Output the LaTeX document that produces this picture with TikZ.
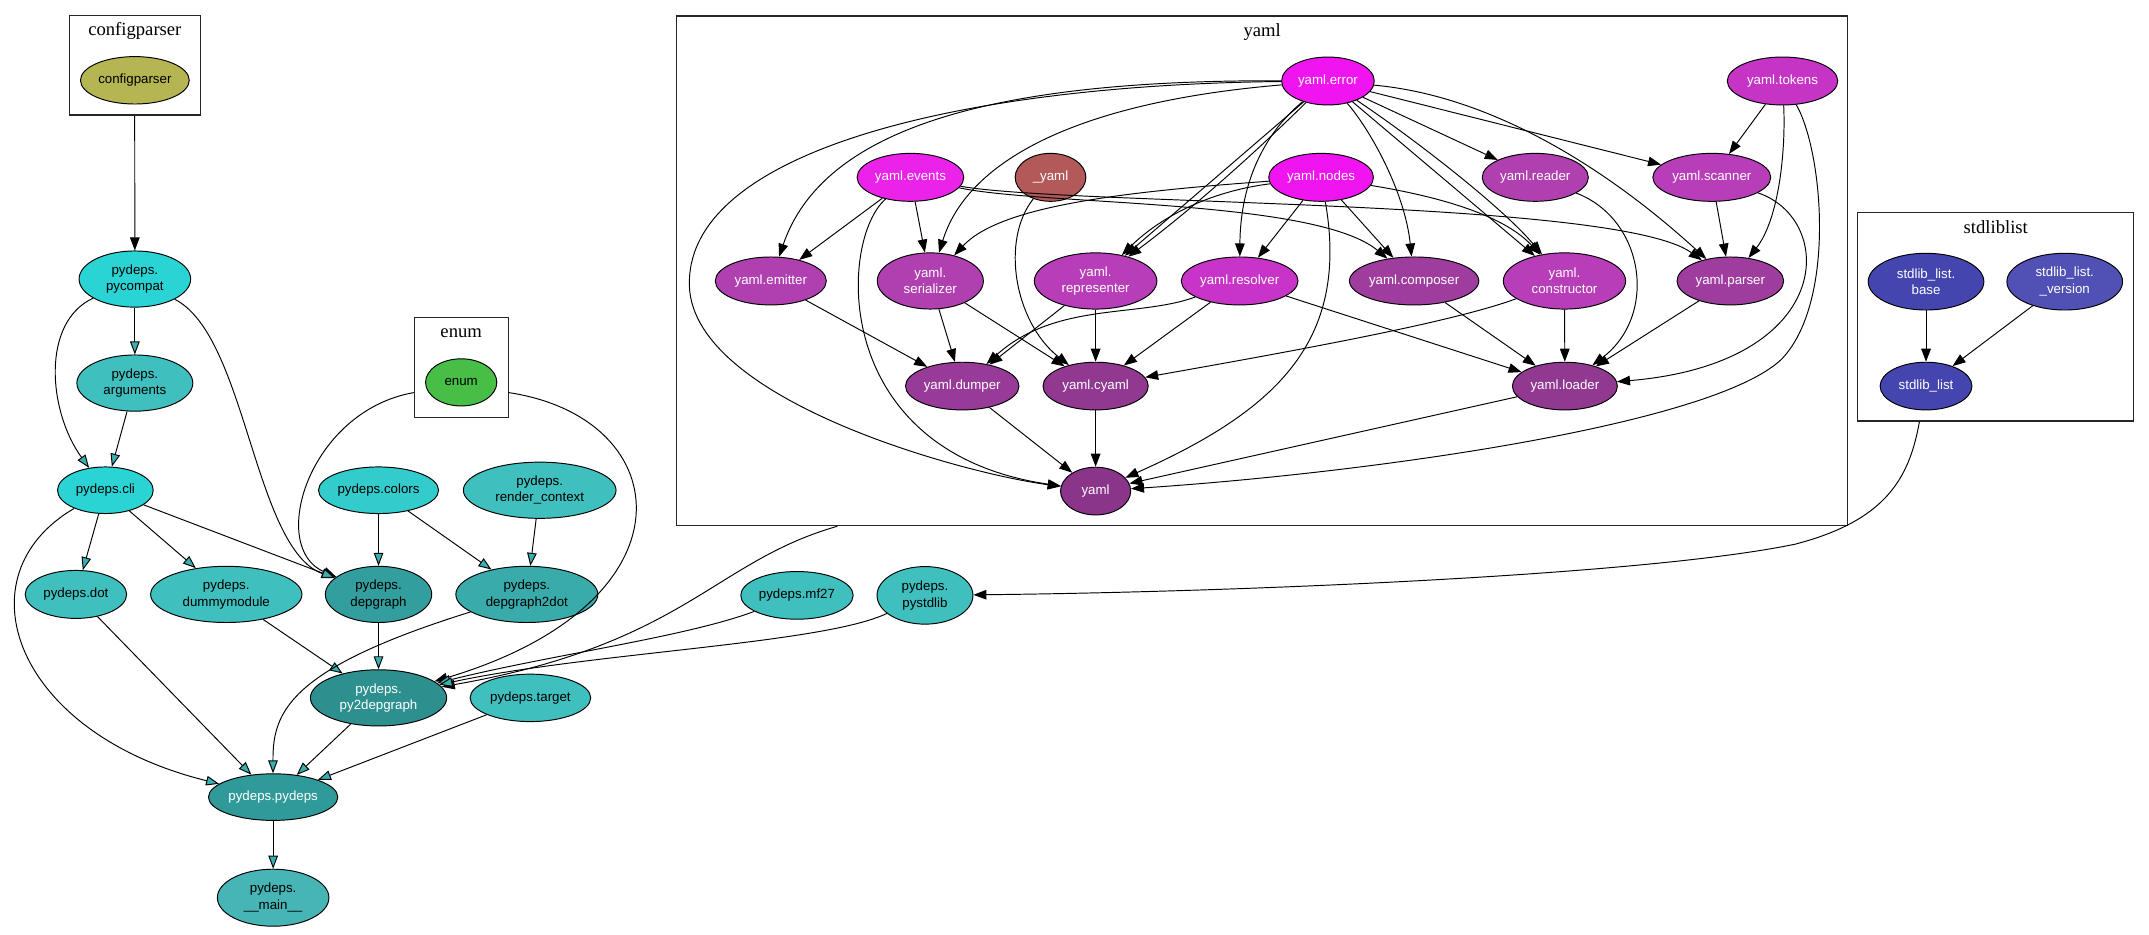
\documentclass[tikz,border=0pt]{standalone}
\usepackage{fontspec}
\setmainfont{Liberation Serif}
\setsansfont{Liberation Sans}
\usetikzlibrary{shapes.geometric,arrows.meta}
\definecolor{CfgOlive}{HTML}{B5B552}
\definecolor{EnumGreen}{HTML}{47BF47}
\definecolor{PyCyan}{HTML}{2AD4D4}
\definecolor{PyColors}{HTML}{33CCCC}
\definecolor{PyTeal}{HTML}{40BFBF}
\definecolor{PyMid}{HTML}{3AABAB}
\definecolor{PyDark}{HTML}{339E9E}
\definecolor{PyDeep}{HTML}{2E8F8F}
\definecolor{PyPydeps}{HTML}{309999}
\definecolor{PyMain}{HTML}{47B5B5}
\definecolor{TipTeal}{HTML}{38B0B0}
\definecolor{YMagenta}{HTML}{F014F0}
\definecolor{YEvents}{HTML}{EA22EA}
\definecolor{YRed}{HTML}{B35959}
\definecolor{YTokens}{HTML}{C634C6}
\definecolor{YResolver}{HTML}{C833C8}
\definecolor{YPurple}{HTML}{B040B0}
\definecolor{YBright}{HTML}{B83DB8}
\definecolor{YMid}{HTML}{9E3D9E}
\definecolor{YDumper}{HTML}{983A98}
\definecolor{YDark}{HTML}{913891}
\definecolor{YDeep}{HTML}{8A358A}
\definecolor{SBlue}{HTML}{4545B0}
\definecolor{SBlueLight}{HTML}{5050B5}
\newcommand{\depfont}{\sffamily\fontsize{9.7}{12}\selectfont}
\newcommand{\clusterfont}{\rmfamily\fontsize{13.6}{16}\selectfont}

\begin{document}
\begin{tikzpicture}[
    x=1pt, y=-1pt,
    modnode/.style={ellipse, draw=black, line width=0.7pt, fill=#1, inner sep=0pt, align=center, font=\depfont},
    modwhite/.style={modnode=#1, text=white},
    cluster/.style={draw=black!85, line width=0.8pt, fill=white, inner sep=0pt},
    ctitle/.style={font=\clusterfont, inner sep=0pt},
    dep/.style={-{Triangle[length=9.5pt, width=7pt, fill=TipTeal]}, line width=0.7pt},
    ydep/.style={-{Triangle[length=9.5pt, width=7pt]}, line width=0.7pt}
]
  \useasboundingbox (0,0) rectangle (1568,682);

  % -------------------------------------------------------------
  % CLUSTERS
  % -------------------------------------------------------------
  \node[cluster, minimum width=95.5pt, minimum height=72.3pt] (cl_configparser) at (98.25, 47.75) {};
  \node[ctitle] (t_configparser) at (98.4, 22.9) {configparser};
  \node[cluster, minimum width=68.4pt, minimum height=72.5pt] (cl_enum) at (336.5, 268.05) {};
  \node[ctitle] (t_enum) at (336.5, 243.4) {enum};
  \node[cluster, minimum width=854.5pt, minimum height=371.9pt] (cl_yaml) at (921.05, 197.65) {};
  \node[ctitle] (t_yaml) at (921, 23.1) {yaml};
  \node[cluster, minimum width=201.2pt, minimum height=152.3pt] (cl_stdliblist) at (1456.1, 231.05) {};
  \node[ctitle] (t_stdliblist) at (1456.2, 165.9) {stdliblist};

  \node[modnode=CfgOlive, minimum width=79.4pt, minimum height=34.6pt] (c_configparser) at (98.4, 58.6) {configparser};
  \node[modnode=EnumGreen, minimum width=52pt, minimum height=34.4pt] (e_enum) at (336.5, 279) {enum};

  % -------------------------------------------------------------
  % PYDEPS
  % -------------------------------------------------------------
  \node[modnode=PyCyan, minimum width=81.4pt, minimum height=41pt] (p_pycompat) at (98.4, 203.6) {pydeps.\\pycompat};
  \node[modnode=PyTeal, minimum width=84.6pt, minimum height=41pt] (p_arguments) at (98.4, 279.5) {pydeps.\\arguments};
  \node[modnode=PyCyan, minimum width=69.8pt, minimum height=34pt] (p_cli) at (76.9, 357.7) {pydeps.cli};
  \node[modnode=PyColors, minimum width=87.6pt, minimum height=34pt] (p_colors) at (276.2, 357.7) {pydeps.colors};
  \node[modnode=PyTeal, minimum width=111.4pt, minimum height=41pt] (p_render) at (393.8, 357.7) {pydeps.\\render\_context};
  \node[modnode=PyTeal, minimum width=74pt, minimum height=35pt] (p_dot) at (55.4, 433.7) {pydeps.dot};
  \node[modnode=PyTeal, minimum width=110.4pt, minimum height=41pt] (p_dummy) at (165.1, 433.7) {pydeps.\\dummymodule};
  \node[modnode=PyDark, minimum width=77.6pt, minimum height=41pt] (p_depgraph) at (276.2, 433.7) {pydeps.\\depgraph};
  \node[modnode=PyMid, minimum width=103.6pt, minimum height=41pt] (p_depgraph2dot) at (384.4, 433.7) {pydeps.\\depgraph2dot};
  \node[modwhite=PyDeep, minimum width=99.4pt, minimum height=41pt] (p_py2depgraph) at (276.2, 509.2) {pydeps.\\py2depgraph};
  \node[modnode=PyTeal, minimum width=88pt, minimum height=34.6pt] (p_target) at (387, 509.2) {pydeps.target};
  \node[modwhite=PyPydeps, minimum width=94.4pt, minimum height=34pt] (p_pydeps) at (199.3, 581.6) {pydeps.pydeps};
  \node[modnode=PyMain, minimum width=81.4pt, minimum height=41.6pt] (p_main) at (199.3, 655) {pydeps.\\\_\_main\_\_};
  \node[modnode=PyTeal, minimum width=82pt, minimum height=34.8pt] (p_mf27) at (581.5, 434.4) {pydeps.mf27};
  \node[modnode=PyTeal, minimum width=70pt, minimum height=42pt] (p_pystdlib) at (674.9, 434.4) {pydeps.\\pystdlib};

  % -------------------------------------------------------------
  % YAML
  % -------------------------------------------------------------
  \node[modwhite=YMagenta, minimum width=67.6pt, minimum height=35pt] (y_error) at (968.9, 59.1) {yaml.error};
  \node[modwhite=YTokens, minimum width=80.6pt, minimum height=35pt] (y_tokens) at (1300.6, 59.1) {yaml.tokens};
  \node[modwhite=YEvents, minimum width=77.8pt, minimum height=35pt] (y_events) at (664.3, 129.4) {yaml.events};
  \node[modwhite=YRed, minimum width=51.6pt, minimum height=35pt] (y_uyaml) at (766.5, 129.4) {\_yaml};
  \node[modwhite=YMagenta, minimum width=76.4pt, minimum height=35pt] (y_nodes) at (963.9, 129.4) {yaml.nodes};
  \node[modwhite=YPurple, minimum width=77.4pt, minimum height=35pt] (y_reader) at (1120.2, 129.4) {yaml.reader};
  \node[modwhite=YBright, minimum width=86pt, minimum height=35pt] (y_scanner) at (1249, 129.4) {yaml.scanner};
  \node[modwhite=YPurple, minimum width=81pt, minimum height=35pt] (y_emitter) at (562.4, 205) {yaml.emitter};
  \node[modwhite=YPurple, minimum width=77.4pt, minimum height=41pt] (y_serializer) at (678.8, 205) {yaml.\\serializer};
  \node[modwhite=YBright, minimum width=89.4pt, minimum height=41pt] (y_representer) at (799.4, 205) {yaml.\\representer};
  \node[modwhite=YResolver, minimum width=85.2pt, minimum height=35pt] (y_resolver) at (904.5, 205) {yaml.resolver};
  \node[modwhite=YMid, minimum width=94.4pt, minimum height=35pt] (y_composer) at (1031.8, 205) {yaml.composer};
  \node[modwhite=YBright, minimum width=89.2pt, minimum height=41pt] (y_constructor) at (1141.5, 205) {yaml.\\constructor};
  \node[modwhite=YMid, minimum width=77.8pt, minimum height=35pt] (y_parser) at (1262.5, 205) {yaml.parser};
  \node[modwhite=YDumper, minimum width=82.8pt, minimum height=34.8pt] (y_dumper) at (702.1, 281.7) {yaml.dumper};
  \node[modwhite=YDark, minimum width=76.8pt, minimum height=34.8pt] (y_cyaml) at (799.4, 281.7) {yaml.cyaml};
  \node[modwhite=YDark, minimum width=76.6pt, minimum height=34.8pt] (y_loader) at (1141.8, 281.7) {yaml.loader};
  \node[modwhite=YDeep, minimum width=51.2pt, minimum height=34.8pt] (y_yaml) at (799.4, 358.3) {yaml};

  % -------------------------------------------------------------
  % STDLIBLIST
  % -------------------------------------------------------------
  \node[modwhite=SBlue, minimum width=84.4pt, minimum height=41.4pt] (s_base) at (1405.3, 205.5) {stdlib\_list.\\base};
  \node[modwhite=SBlueLight, minimum width=84.4pt, minimum height=41.4pt] (s_version) at (1506.5, 205.5) {stdlib\_list.\\\_version};
  \node[modwhite=SBlue, minimum width=67pt, minimum height=34.8pt] (s_list) at (1405.3, 281.7) {stdlib\_list};

  % cluster edges
  \draw[ydep] (cl_configparser) -- (p_pycompat);
  \draw[ydep] (cl_enum.208) .. controls (225,300) and (195,400) .. (p_depgraph);
  \draw[ydep] (cl_enum.332) .. controls (495,305) and (510,440) .. (p_py2depgraph);
  \draw[ydep] (cl_yaml.211) .. controls (520,410) and (500,470) .. (p_py2depgraph);
  \draw[ydep] (cl_stdliblist.234) .. controls (1393,350) and (1375,380) .. (1310,397) .. controls (1200,420) and (900,432) .. (p_pystdlib);

  % pydeps edges
  \draw[dep] (p_pycompat) -- (p_arguments);
  \draw[dep] (p_pycompat) .. controls (30,235) and (35,300) .. (p_cli);
  \draw[dep] (p_pycompat) .. controls (180,245) and (185,400) .. (p_depgraph);
  \draw[dep] (p_arguments) -- (p_cli);
  \draw[dep] (p_cli) -- (p_dot);
  \draw[dep] (p_cli) -- (p_dummy);
  \draw[dep] (p_cli) -- (p_depgraph);
  \draw[dep] (p_cli) .. controls (-30,420) and (10,535) .. (p_pydeps);
  \draw[dep] (p_colors) -- (p_depgraph);
  \draw[dep] (p_colors) -- (p_depgraph2dot);
  \draw[dep] (p_render) -- (p_depgraph2dot);
  \draw[dep] (p_dot) -- (p_pydeps);
  \draw[dep] (p_dummy) -- (p_py2depgraph);
  \draw[dep] (p_depgraph) -- (p_py2depgraph);
  \draw[dep] (p_depgraph2dot) .. controls (210,488) and (199,520) .. (p_pydeps);
  \draw[dep] (p_py2depgraph) -- (p_pydeps);
  \draw[dep] (p_target) -- (p_pydeps);
  \draw[dep] (p_pydeps) -- (p_main);
  \draw[dep] (p_mf27) .. controls (500,465) and (400,478) .. (p_py2depgraph);
  \draw[dep] (p_pystdlib) .. controls (600,470) and (430,476) .. (p_py2depgraph);

  % yaml edges
  \draw[ydep] (y_error) .. controls (720,58) and (600,95) .. (y_emitter);
  \draw[ydep] (y_error) .. controls (700,62) and (505,110) .. (503,205) .. controls (500,290) and (700,345) .. (y_yaml);
  \draw[ydep] (y_error) .. controls (780,75) and (705,120) .. (y_serializer);
  \draw[ydep] (y_error) -- (y_representer);
  \draw[ydep] (y_error) .. controls (905,122) and (860,160) .. (y_representer);
  \draw[ydep] (y_error) .. controls (925,95) and (905,130) .. (y_resolver);
  \draw[ydep] (y_error) .. controls (1000,95) and (1025,140) .. (y_composer);
  \draw[ydep] (y_error) -- (y_constructor);
  \draw[ydep] (y_error) .. controls (1030,100) and (1095,150) .. (y_constructor);
  \draw[ydep] (y_error) -- (y_reader);
  \draw[ydep] (y_error) -- (y_scanner);
  \draw[ydep] (y_error) .. controls (1090,70) and (1175,125) .. (y_parser);
  \draw[ydep] (y_events) -- (y_emitter);
  \draw[ydep] (y_events) -- (y_serializer);
  \draw[ydep] (y_events) .. controls (612,175) and (605,330) .. (y_yaml);
  \draw[ydep] (y_events) .. controls (760,150) and (960,145) .. (y_composer);
  \draw[ydep] (y_events) .. controls (780,150) and (1180,145) .. (y_parser);
  \draw[ydep] (y_nodes) .. controls (820,140) and (730,150) .. (y_serializer);
  \draw[ydep] (y_nodes) .. controls (880,140) and (845,160) .. (y_representer);
  \draw[ydep] (y_nodes) -- (y_resolver);
  \draw[ydep] (y_nodes) -- (y_composer);
  \draw[ydep] (y_nodes) .. controls (1060,145) and (1100,160) .. (y_constructor);
  \draw[ydep] (y_nodes) .. controls (985,250) and (930,300) .. (y_yaml);
  \draw[ydep] (y_uyaml) .. controls (730,175) and (740,235) .. (y_cyaml);
  \draw[ydep] (y_tokens) -- (y_scanner);
  \draw[ydep] (y_tokens) .. controls (1303,110) and (1298,160) .. (y_parser);
  \draw[ydep] (y_tokens) .. controls (1330,110) and (1340,220) .. (1300,262) .. controls (1250,310) and (1000,345) .. (y_yaml);
  \draw[ydep] (y_reader) .. controls (1200,160) and (1210,230) .. (y_loader);
  \draw[ydep] (y_scanner) -- (y_parser);
  \draw[ydep] (y_scanner) .. controls (1340,160) and (1340,265) .. (y_loader);
  \draw[ydep] (y_parser) -- (y_loader);
  \draw[ydep] (y_composer) -- (y_loader);
  \draw[ydep] (y_constructor) -- (y_loader);
  \draw[ydep] (y_constructor) .. controls (1060,235) and (950,255) .. (y_cyaml);
  \draw[ydep] (y_resolver) -- (y_loader);
  \draw[ydep] (y_resolver) -- (y_cyaml);
  \draw[ydep] (y_resolver) .. controls (830,232) and (770,220) .. (y_dumper);
  \draw[ydep] (y_representer) -- (y_dumper);
  \draw[ydep] (y_representer) -- (y_cyaml);
  \draw[ydep] (y_serializer) -- (y_dumper);
  \draw[ydep] (y_serializer) -- (y_cyaml);
  \draw[ydep] (y_emitter) -- (y_dumper);
  \draw[ydep] (y_dumper) -- (y_yaml);
  \draw[ydep] (y_cyaml) -- (y_yaml);
  \draw[ydep] (y_loader) -- (y_yaml);

  % stdliblist edges
  \draw[ydep] (s_base) -- (s_list);
  \draw[ydep] (s_version) -- (s_list);

\end{tikzpicture}
\end{document}
